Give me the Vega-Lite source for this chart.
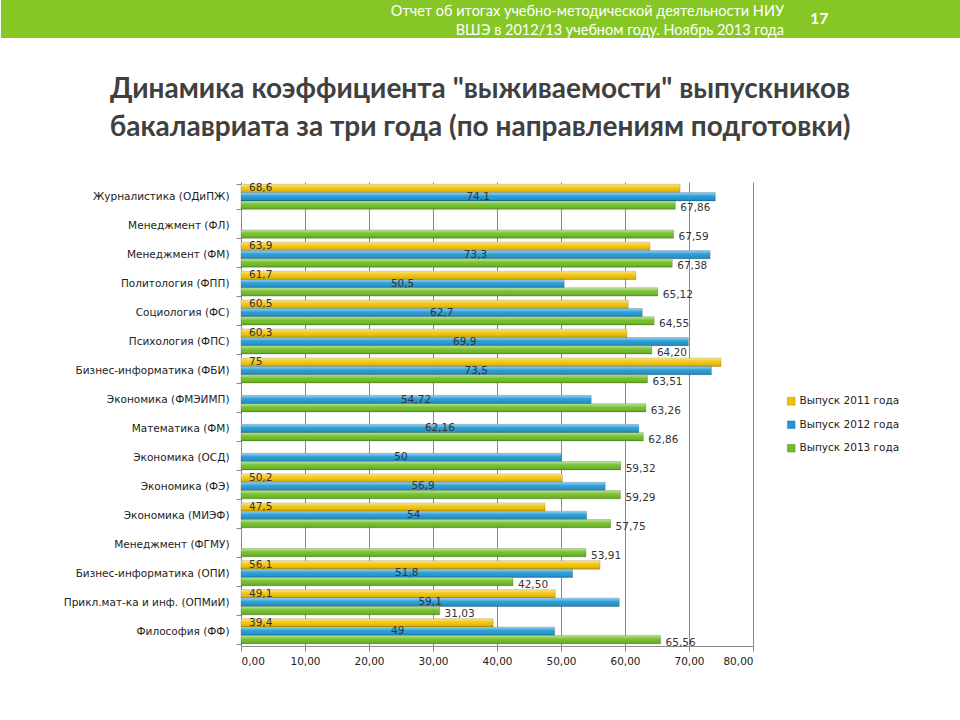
{
  "$schema": "https://vega.github.io/schema/vega-lite/v6.json",
  "background": "white",
  "padding": 0,
  "spacing": 38,
  "config": {
    "locale": {"number": {"decimal": ",", "thousands": " ", "grouping": [3], "currency": ["", ""]}},
    "font": "DejaVu Sans"
  },
  "vconcat": [
    {
      "width": 720,
      "height": 38,
      "view": {"stroke": null},
      "layer": [
        {
          "data": {"values": [{"band": "header"}]},
          "mark": {"type": "rect", "color": "#86C726", "clip": false},
          "encoding": {
            "x": {"datum": -0.33334, "type": "quantitative", "scale": {"domain": [0, 1], "nice": false, "zero": false}, "axis": null},
            "x2": {"datum": 1}
          }
        },
        {
          "data": {"values": [
            {"line": 1, "text": "Отчет об итогах учебно-методической деятельности НИУ"},
            {"line": 2, "text": "ВШЭ в 2012/13 учебном году. Ноябрь 2013 года"}
          ]},
          "mark": {"type": "text", "align": "right", "baseline": "middle", "dy": 2, "color": "white", "font": "Lato", "fontSize": 14.5},
          "encoding": {
            "x": {"datum": 0.7542, "type": "quantitative"},
            "y": {"field": "line", "type": "ordinal", "scale": {"paddingOuter": 0, "paddingInner": 0}, "axis": null},
            "text": {"field": "text"}
          }
        },
        {
          "data": {"values": [{"page": "17"}]},
          "mark": {"type": "text", "align": "left", "baseline": "middle", "dy": 0, "color": "white", "font": "Lato", "fontWeight": "bold", "fontSize": 16},
          "encoding": {
            "x": {"datum": 0.7903, "type": "quantitative"},
            "text": {"field": "page"}
          }
        }
      ]
    },
    {
      "width": 512,
      "height": 464,
      "view": {"stroke": null},
      "title": {
        "text": ["Динамика коэффициента \"выживаемости\" выпускников", "бакалавриата за три года (по направлениям подготовки)"],
        "font": "Lato",
        "fontSize": 28,
        "fontWeight": "bold",
        "color": "#404040",
        "lineHeight": 38,
        "anchor": "middle",
        "frame": "group",
        "dx": -17,
        "offset": 35
      },
      "data": {"values": [
        {"cat": "Журналистика (ОДиПЖ)", "year": "Выпуск 2011 года", "value": 68.6},
        {"cat": "Журналистика (ОДиПЖ)", "year": "Выпуск 2012 года", "value": 74.1},
        {"cat": "Журналистика (ОДиПЖ)", "year": "Выпуск 2013 года", "value": 67.86},
        {"cat": "Менеджмент (ФЛ)", "year": "Выпуск 2013 года", "value": 67.59},
        {"cat": "Менеджмент (ФМ)", "year": "Выпуск 2011 года", "value": 63.9},
        {"cat": "Менеджмент (ФМ)", "year": "Выпуск 2012 года", "value": 73.3},
        {"cat": "Менеджмент (ФМ)", "year": "Выпуск 2013 года", "value": 67.38},
        {"cat": "Политология (ФПП)", "year": "Выпуск 2011 года", "value": 61.7},
        {"cat": "Политология (ФПП)", "year": "Выпуск 2012 года", "value": 50.5},
        {"cat": "Политология (ФПП)", "year": "Выпуск 2013 года", "value": 65.12},
        {"cat": "Социология (ФС)", "year": "Выпуск 2011 года", "value": 60.5},
        {"cat": "Социология (ФС)", "year": "Выпуск 2012 года", "value": 62.7},
        {"cat": "Социология (ФС)", "year": "Выпуск 2013 года", "value": 64.55},
        {"cat": "Психология (ФПС)", "year": "Выпуск 2011 года", "value": 60.3},
        {"cat": "Психология (ФПС)", "year": "Выпуск 2012 года", "value": 69.9},
        {"cat": "Психология (ФПС)", "year": "Выпуск 2013 года", "value": 64.2},
        {"cat": "Бизнес-информатика (ФБИ)", "year": "Выпуск 2011 года", "value": 75},
        {"cat": "Бизнес-информатика (ФБИ)", "year": "Выпуск 2012 года", "value": 73.5},
        {"cat": "Бизнес-информатика (ФБИ)", "year": "Выпуск 2013 года", "value": 63.51},
        {"cat": "Экономика (ФМЭИМП)", "year": "Выпуск 2012 года", "value": 54.72},
        {"cat": "Экономика (ФМЭИМП)", "year": "Выпуск 2013 года", "value": 63.26},
        {"cat": "Математика (ФМ)", "year": "Выпуск 2012 года", "value": 62.16},
        {"cat": "Математика (ФМ)", "year": "Выпуск 2013 года", "value": 62.86},
        {"cat": "Экономика (ОСД)", "year": "Выпуск 2012 года", "value": 50},
        {"cat": "Экономика (ОСД)", "year": "Выпуск 2013 года", "value": 59.32},
        {"cat": "Экономика (ФЭ)", "year": "Выпуск 2011 года", "value": 50.2},
        {"cat": "Экономика (ФЭ)", "year": "Выпуск 2012 года", "value": 56.9},
        {"cat": "Экономика (ФЭ)", "year": "Выпуск 2013 года", "value": 59.29},
        {"cat": "Экономика (МИЭФ)", "year": "Выпуск 2011 года", "value": 47.5},
        {"cat": "Экономика (МИЭФ)", "year": "Выпуск 2012 года", "value": 54},
        {"cat": "Экономика (МИЭФ)", "year": "Выпуск 2013 года", "value": 57.75},
        {"cat": "Менеджмент (ФГМУ)", "year": "Выпуск 2013 года", "value": 53.91},
        {"cat": "Бизнес-информатика (ОПИ)", "year": "Выпуск 2011 года", "value": 56.1},
        {"cat": "Бизнес-информатика (ОПИ)", "year": "Выпуск 2012 года", "value": 51.8},
        {"cat": "Бизнес-информатика (ОПИ)", "year": "Выпуск 2013 года", "value": 42.5},
        {"cat": "Прикл.мат-ка и инф. (ОПМиИ)", "year": "Выпуск 2011 года", "value": 49.1},
        {"cat": "Прикл.мат-ка и инф. (ОПМиИ)", "year": "Выпуск 2012 года", "value": 59.1},
        {"cat": "Прикл.мат-ка и инф. (ОПМиИ)", "year": "Выпуск 2013 года", "value": 31.03},
        {"cat": "Философия (ФФ)", "year": "Выпуск 2011 года", "value": 39.4},
        {"cat": "Философия (ФФ)", "year": "Выпуск 2012 года", "value": 49},
        {"cat": "Философия (ФФ)", "year": "Выпуск 2013 года", "value": 65.56}
      ]},
      "encoding": {
        "y": {
          "field": "cat", "type": "nominal", "sort": null,
          "scale": {"paddingInner": 0.14, "paddingOuter": 0.08},
          "axis": {
            "title": null, "labelFont": "DejaVu Sans", "labelFontSize": 10.5, "labelColor": "#222",
            "labelPadding": 7, "labelLimit": 300, "minExtent": 240, "maxExtent": 240,
            "tickBand": "extent", "tickSize": 5, "tickColor": "#888", "domainColor": "#888"
          }
        },
        "yOffset": {"field": "year", "type": "nominal", "scale": {"domain": ["Выпуск 2011 года", "Выпуск 2012 года", "Выпуск 2013 года"]}}
      },
      "layer": [
        {
          "encoding": {
            "x": {
              "field": "value", "type": "quantitative",
              "scale": {"domain": [0, 80], "nice": false},
              "axis": {
                "title": null, "values": [0, 10, 20, 30, 40, 50, 60, 70, 80], "format": ".2f",
                "labelFont": "DejaVu Sans", "labelFontSize": 10.5, "labelColor": "#222",
                "grid": true, "gridColor": "#8a8a8a", "domainColor": "#8a8a8a", "tickColor": "#8a8a8a", "tickSize": 5, "labelPadding": 5
              }
            }
          },
          "layer": [
            {
              "mark": {"type": "bar", "stroke": "rgba(0,0,0,0.3)", "strokeWidth": 0.6},
              "encoding": {
                "color": {
                  "field": "year", "type": "nominal",
                  "scale": {"domain": ["Выпуск 2011 года", "Выпуск 2012 года", "Выпуск 2013 года"], "range": ["#F2C200", "#1E98D4", "#6EBE22"]},
                  "legend": {
                    "title": null, "orient": "none", "legendX": 545, "legendY": 396,
                    "symbolType": "square", "symbolSize": 60, "symbolStrokeWidth": 0.6,
                    "labelFont": "DejaVu Sans", "labelFontSize": 10.5, "labelColor": "#222",
                    "rowPadding": 12.5, "labelOffset": 3
                  }
                }
              }
            },
            {
              "mark": {
                "type": "bar",
                "fill": {"gradient": "linear", "x1": 0, "y1": 0, "x2": 0, "y2": 1,
                  "stops": [
                    {"offset": 0, "color": "rgba(255,255,255,0.55)"},
                    {"offset": 0.45, "color": "rgba(255,255,255,0.05)"},
                    {"offset": 1, "color": "rgba(0,0,0,0.18)"}
                  ]}
              }
            },
            {
              "transform": [{"filter": "datum.year === 'Выпуск 2011 года'"}],
              "mark": {"type": "text", "align": "left", "baseline": "middle", "dx": 8, "font": "DejaVu Sans", "fontSize": 10.5, "color": "#333"},
              "encoding": {
                "x": {"datum": 0},
                "text": {"field": "value", "type": "quantitative", "format": "~g"}
              }
            },
            {
              "transform": [{"filter": "datum.year === 'Выпуск 2013 года'"}],
              "mark": {"type": "text", "align": "left", "baseline": "middle", "dx": 5, "dy": 3, "font": "DejaVu Sans", "fontSize": 10.5, "color": "#333"},
              "encoding": {
                "text": {"field": "value", "type": "quantitative", "format": ".2f"}
              }
            }
          ]
        },
        {
          "transform": [{"filter": "datum.year === 'Выпуск 2012 года'"}],
          "mark": {"type": "text", "align": "center", "baseline": "middle", "font": "DejaVu Sans", "fontSize": 10.5, "color": "#333"},
          "encoding": {
            "x": {"field": "value", "type": "quantitative", "scale": {"domain": [0, 160], "nice": false}, "axis": null},
            "text": {"field": "value", "type": "quantitative", "format": "~g"}
          }
        }
      ],
      "resolve": {"scale": {"x": "independent"}}
    }
  ]
}
